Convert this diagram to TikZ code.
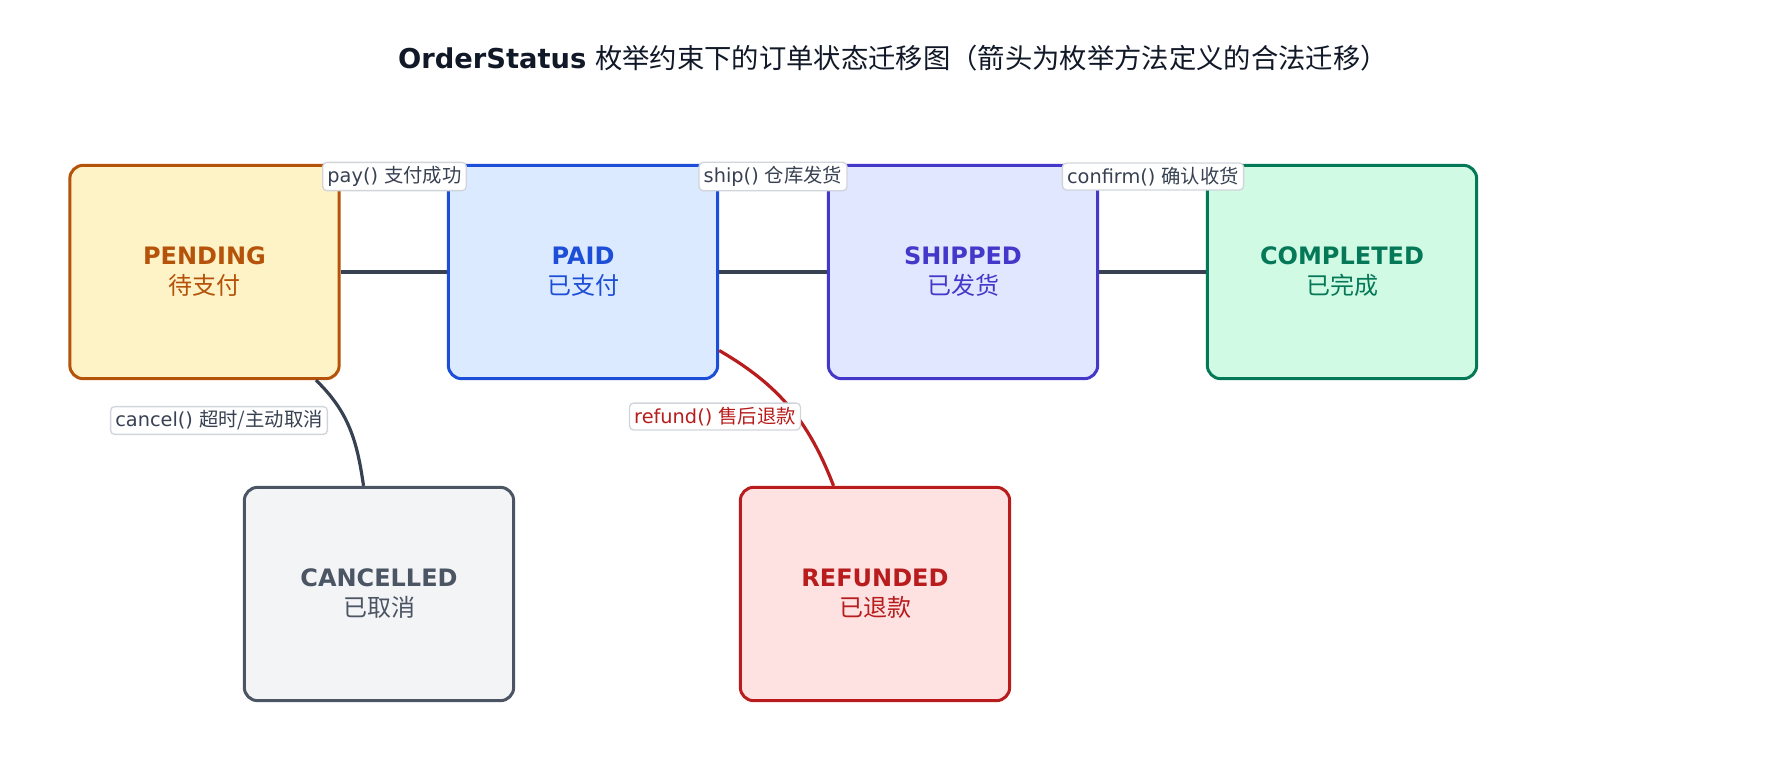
\documentclass[tikz,border=0pt]{standalone}
\usepackage{fontspec}
\setmainfont{DejaVu Sans}
\newfontfamily\cjk{Noto Sans CJK SC}
\definecolor{inkdark}{HTML}{111827}
\definecolor{edgegray}{HTML}{374151}
\definecolor{lblborder}{HTML}{D1D5DB}
\definecolor{pendline}{HTML}{B45309}
\definecolor{pendfill}{HTML}{FEF3C7}
\definecolor{paidline}{HTML}{1D4ED8}
\definecolor{paidfill}{HTML}{DBEAFE}
\definecolor{shipline}{HTML}{4338CA}
\definecolor{shipfill}{HTML}{E0E7FF}
\definecolor{doneline}{HTML}{047857}
\definecolor{donefill}{HTML}{D1FAE5}
\definecolor{cancline}{HTML}{4B5563}
\definecolor{cancfill}{HTML}{F3F4F6}
\definecolor{refline}{HTML}{B91C1C}
\definecolor{reffill}{HTML}{FEE2E2}
\begin{document}
\begin{tikzpicture}[x=0.75pt,y=-0.75pt,
        state/.style={draw=#1line,fill=#1fill,text=#1line,line width=2.25pt,rounded corners=10pt,
            minimum width=202pt,minimum height=160pt,align=center,font=\fontsize{18}{22.5}\selectfont},
        trans/.style={draw=edgegray,line width=2.4pt},
        translbl/.style={draw=lblborder,fill=white,text=edgegray,line width=1pt,rounded corners=3pt,
            inner xsep=3.5pt,inner ysep=3pt,font=\fontsize{14.5}{17}\selectfont}]
    \useasboundingbox (0,0) rectangle (1780,760);
    \node[text=inkdark,font=\fontsize{20.5}{24}\selectfont] (title) at (893,58)
        {\textbf{OrderStatus} {\cjk 枚举约束下的订单状态迁移图（箭头为枚举方法定义的合法迁移）}};

    \node[state=pend] (pending) at (204.5,272) {\textbf{PENDING}\\{\cjk 待支付}};
    \node[state=paid] (paid) at (583,272) {\textbf{PAID}\\{\cjk 已支付}};
    \node[state=ship] (shipped) at (963,272) {\textbf{SHIPPED}\\{\cjk 已发货}};
    \node[state=done] (completed) at (1342,272) {\textbf{COMPLETED}\\{\cjk 已完成}};
    \node[state=canc] (cancelled) at (379,594) {\textbf{CANCELLED}\\{\cjk 已取消}};
    \node[state=ref] (refunded) at (875,594) {\textbf{REFUNDED}\\{\cjk 已退款}};

    \draw[trans] (pending) -- (paid);
    \draw[trans] (paid) -- (shipped);
    \draw[trans] (shipped) -- (completed);
    \draw[trans] (pending) to[out=-44.5,in=98.5] (cancelled);
    \draw[trans,draw=refline] (paid) to[out=-30,in=111] (refunded);

    \node[translbl] (paylbl) at (394.5,176.5) {pay() {\cjk 支付成功}};
    \node[translbl] (shiplbl) at (773,176.5) {ship() {\cjk 仓库发货}};
    \node[translbl] (confirmlbl) at (1153,176.5) {confirm() {\cjk 确认收货}};
    \node[translbl] (cancellbl) at (219,420.5) {cancel() {\cjk 超时/主动取消}};
    \node[translbl,text=refline] (refundlbl) at (715,416.5) {refund() {\cjk 售后退款}};
\end{tikzpicture}
\end{document}
